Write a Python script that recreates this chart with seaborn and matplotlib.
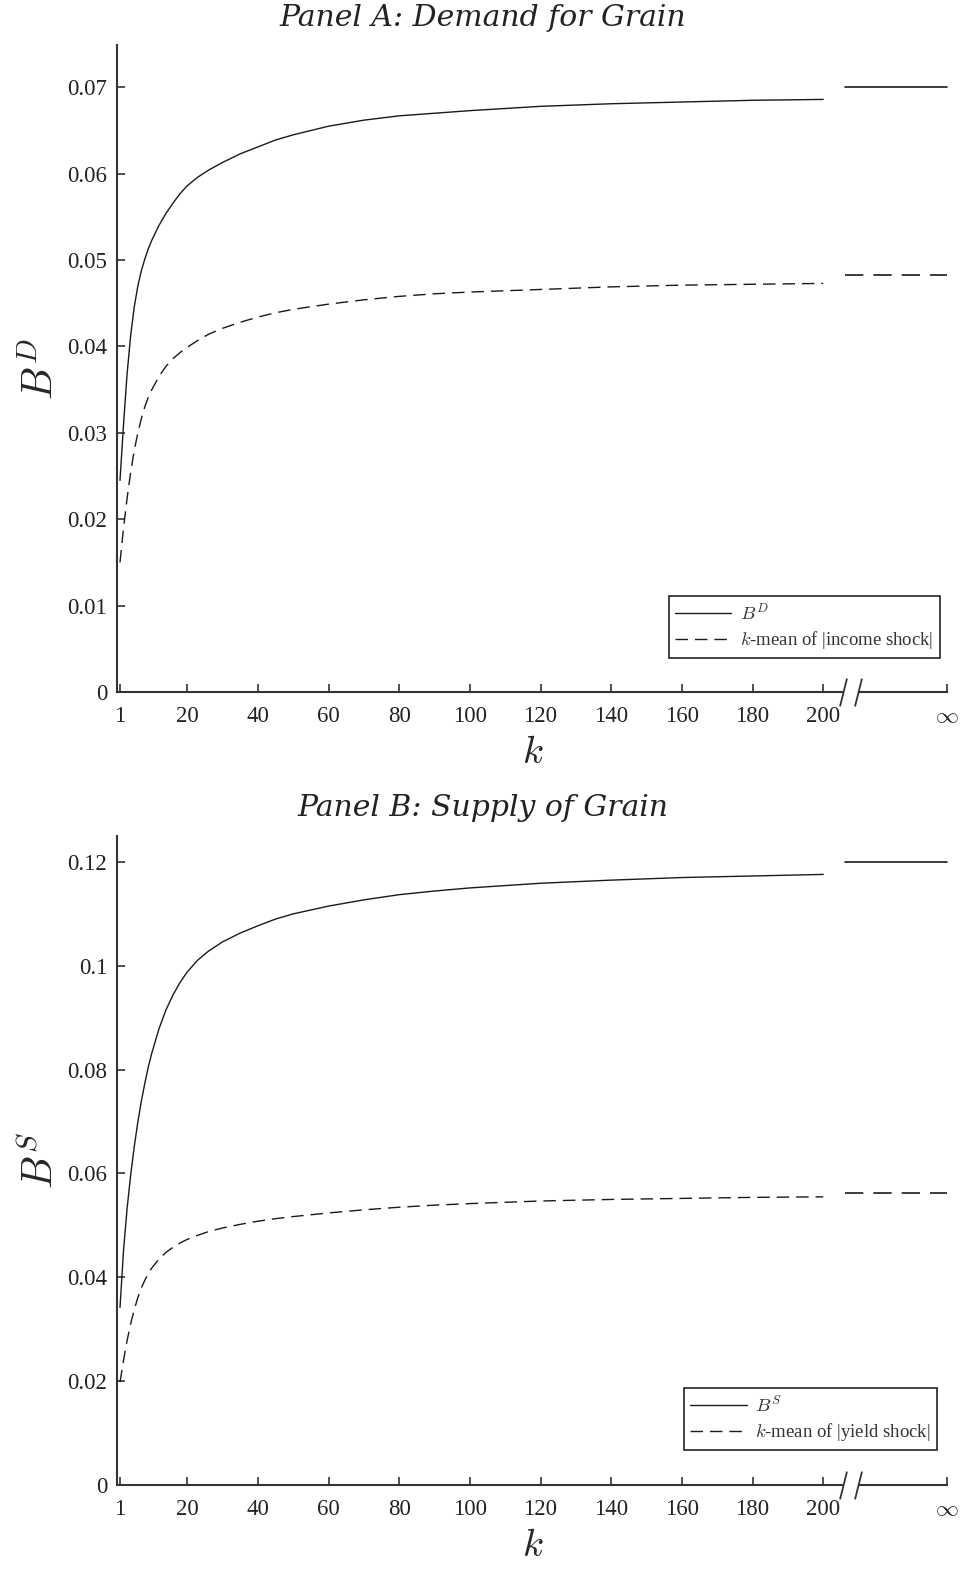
import numpy as np
import pandas as pd
import matplotlib
matplotlib.use("Agg")
import matplotlib.pyplot as plt
import matplotlib.transforms as mtransforms
import seaborn as sns

# ---------------- data ----------------
k_vals = [1, 2, 3, 4, 5, 6, 7, 8, 9, 10, 12, 14, 16, 18, 20, 23, 26, 30, 35, 40,
          45, 50, 60, 70, 80, 90, 100, 120, 140, 160, 180, 200]

demand_B = [0.0245, 0.0310, 0.0368, 0.0412, 0.0445, 0.0469, 0.0487, 0.0501,
            0.0513, 0.0523, 0.0540, 0.0554, 0.0566, 0.0577, 0.0586, 0.0596,
            0.0604, 0.0613, 0.0623, 0.0631, 0.0639, 0.0645, 0.0655, 0.0662,
            0.0667, 0.0670, 0.0673, 0.0678, 0.0681, 0.0683, 0.0685, 0.0686]
demand_mean = [0.0150, 0.0190, 0.0224, 0.0254, 0.0279, 0.0299, 0.0316, 0.0330,
               0.0341, 0.0350, 0.0365, 0.0377, 0.0386, 0.0393, 0.0399, 0.0407,
               0.0414, 0.0421, 0.0428, 0.0434, 0.0439, 0.0443, 0.0449, 0.0454,
               0.0458, 0.0461, 0.0463, 0.0466, 0.0469, 0.0471, 0.0472, 0.0473]
supply_B = [0.0342, 0.0452, 0.0532, 0.0596, 0.0650, 0.0697, 0.0738, 0.0773,
            0.0805, 0.0832, 0.0878, 0.0915, 0.0944, 0.0968, 0.0988, 0.1011,
            0.1028, 0.1046, 0.1063, 0.1077, 0.1090, 0.1100, 0.1115, 0.1127,
            0.1137, 0.1144, 0.1150, 0.1159, 0.1165, 0.1170, 0.1173, 0.1176]
supply_mean = [0.0198, 0.0240, 0.0278, 0.0310, 0.0337, 0.0360, 0.0379, 0.0394,
               0.0407, 0.0418, 0.0435, 0.0448, 0.0458, 0.0466, 0.0473, 0.0481,
               0.0488, 0.0495, 0.0502, 0.0508, 0.0513, 0.0517, 0.0524, 0.0530,
               0.0535, 0.0539, 0.0542, 0.0547, 0.0550, 0.0552, 0.0554, 0.0555]

demand_B_inf = 0.0700
demand_mean_inf = 0.0483
supply_B_inf = 0.1200
supply_mean_inf = 0.0562

x_ticks = [1, 20, 40, 60, 80, 100, 120, 140, 160, 180, 200]
x_tick_labels = [str(t) for t in x_ticks]
inf_label = r"$\infty$"

demand_yticks = [0, 0.01, 0.02, 0.03, 0.04, 0.05, 0.06, 0.07]
demand_ytick_labels = ["0", "0.01", "0.02", "0.03", "0.04", "0.05", "0.06", "0.07"]
supply_yticks = [0, 0.02, 0.04, 0.06, 0.08, 0.10, 0.12]
supply_ytick_labels = ["0", "0.02", "0.04", "0.06", "0.08", "0.1", "0.12"]

titles = ["Panel A: Demand for Grain", "Panel B: Supply of Grain"]
ylabels = [r"$B^D$", r"$B^S$"]
legend_labels = [[r"$B^D$", r"$k$-mean of |income shock|"],
                 [r"$B^S$", r"$k$-mean of |yield shock|"]]

# ---------------- layout / style ----------------
X_MIN, X_MAX = 0.15, 235.3
INF_POS = 235.0          # axis position standing for infinity
INF_START = 206.2        # where the infinity segments begin
BREAK_L, BREAK_R = 205.5, 209.9

sns.set_theme(style="ticks")
plt.rcParams["font.family"] = ["Liberation Serif", "DejaVu Serif"]
plt.rcParams["mathtext.fontset"] = "cm"

LINE_COL = "#1a1a1a"
SPINE_COL = "#333333"
DASH = (0, (9, 5))
DASH_INF = (0, (11, 6))

fig = plt.figure(figsize=(9.6, 15.7), dpi=100)
ax_a = fig.add_axes([117 / 960, 1 - 692 / 1570, (948 - 117) / 960, (692 - 45) / 1570])
ax_b = fig.add_axes([117 / 960, 1 - 1485 / 1570, (948 - 117) / 960, (1485 - 836) / 1570])

panels = [
    (ax_a, demand_B, demand_mean, demand_B_inf, demand_mean_inf,
     demand_yticks, demand_ytick_labels, (0, 0.0749), (0.990, 0.0526), 18 / 1570),
    (ax_b, supply_B, supply_mean, supply_B_inf, supply_mean_inf,
     supply_yticks, supply_ytick_labels, (0, 0.1250), (0.987, 0.054), 808 / 1570),
]

for i, (ax, sB, sM, infB, infM, yt, ytl, ylim, leg_anchor, title_y) in enumerate(panels):
    df = pd.DataFrame({"k": k_vals, "B": sB, "M": sM})
    sns.lineplot(data=df, x="k", y="B", ax=ax, color=LINE_COL, lw=1.0,
                 label=legend_labels[i][0])
    sns.lineplot(data=df, x="k", y="M", ax=ax, color=LINE_COL, lw=1.0,
                 linestyle=DASH, label=legend_labels[i][1])
    # limits at infinity
    ax.plot([INF_START, INF_POS], [infB, infB], color=LINE_COL, lw=1.2)
    ax.plot([INF_START, INF_POS], [infM, infM], color=LINE_COL, lw=1.2,
            linestyle=DASH_INF)

    ax.set_xlim(X_MIN, X_MAX)
    ax.set_ylim(*ylim)
    ax.set_xticks(x_ticks + [INF_POS])
    ax.set_xticklabels(x_tick_labels + [inf_label])
    ax.set_yticks(yt)
    ax.set_yticklabels(ytl)
    ax.tick_params(axis="both", direction="in", length=6, width=1.2,
                   colors=SPINE_COL, labelsize=16.5, labelcolor="#222222")
    ax.tick_params(axis="x", pad=10)
    ax.tick_params(axis="y", pad=7)

    for s in ["top", "right", "bottom"]:
        ax.spines[s].set_visible(False)
    ax.spines["left"].set_color(SPINE_COL)
    ax.spines["left"].set_linewidth(1.5)

    # broken bottom axis
    trans = mtransforms.blended_transform_factory(ax.transData, ax.transAxes)
    ax.plot([X_MIN, BREAK_L], [0, 0], transform=trans, color=SPINE_COL, lw=1.5,
            clip_on=False, solid_capstyle="butt")
    ax.plot([BREAK_R, X_MAX], [0, 0], transform=trans, color=SPINE_COL, lw=1.5,
            clip_on=False, solid_capstyle="butt")
    ax.plot([BREAK_L, BREAK_R], [0, 0], transform=trans, linestyle="none",
            marker=[(-0.25, -1), (0.25, 1)], markersize=20, markeredgewidth=1.3,
            color=SPINE_COL, clip_on=False)

    ax.set_xlabel(r"$k$", fontsize=28, labelpad=6)
    ax.set_ylabel(ylabels[i], fontsize=30, labelpad=4)

    leg = ax.legend(loc="lower right", bbox_to_anchor=leg_anchor, frameon=True,
                    fancybox=False, edgecolor="#222222", framealpha=1,
                    fontsize=13.5, handlelength=3.0, borderpad=0.35,
                    labelspacing=0.3, handletextpad=0.45, borderaxespad=0)
    leg.get_frame().set_linewidth(1.2)
    for txt in leg.get_texts():
        txt.set_color("#333333")

    fig.text(0.503, 1 - title_y, titles[i], ha="center", va="center",
             fontsize=21.5, fontstyle="italic", color="#222222",
             family=["DejaVu Serif"])

fig.savefig("out.png", dpi=100, facecolor="white")
